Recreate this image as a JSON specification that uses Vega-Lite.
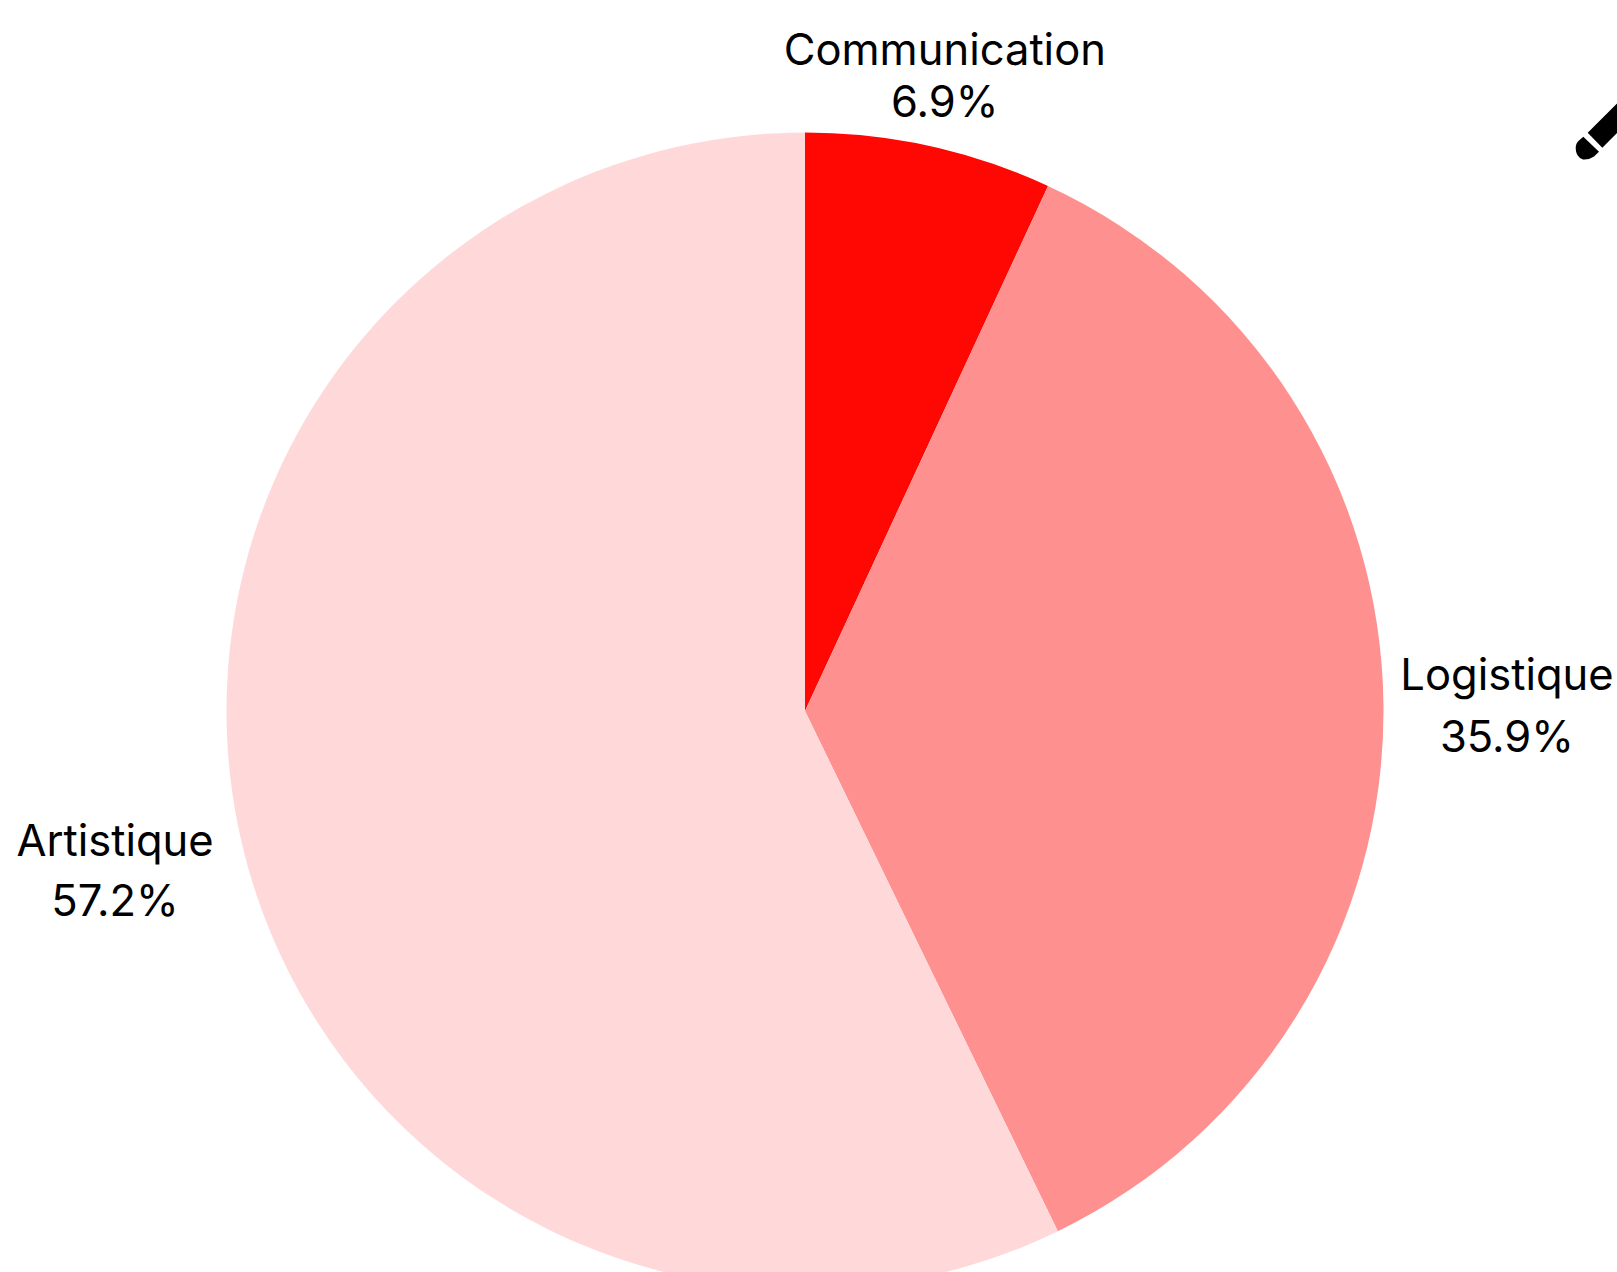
{
"$schema":"https://vega.github.io/schema/vega-lite/v6.json",
"width":1617,"height":1272,"padding":0,
"autosize":{"type":"none"},
"background":"#ffffff",
"config":{"view":{"stroke":null}},
"data":{"values":[
{"name":"Communication","share":6.9,"rank":1},
{"name":"Logistique","share":35.9,"rank":2},
{"name":"Artistique","share":57.2,"rank":3}
]},
"layer":[
{"mark":{"type":"arc","outerRadius":578.5,"innerRadius":0},
 "encoding":{
  "theta":{"field":"share","type":"quantitative","stack":true,"scale":{"domain":[0,100]}},
  "order":{"field":"rank","type":"ordinal"},
  "color":{"field":"name","type":"nominal","legend":null,"scale":{"domain":["Communication","Logistique","Artistique"],"range":["#ff0804","#ff9090","#ffd9d9"]}},
  "x":{"value":805},"y":{"value":711}
 }},
{"transform":[
  {"stack":"share","sort":[{"field":"rank"}],"groupby":[],"as":["a0","a1"]},
  {"calculate":"(datum.a0+datum.a1)/2","as":"mid"},
  {"calculate":"datum.name+'\\n'+format(datum.share,'.1f')+'%'","as":"label"},
  {"filter":"datum.name==='Communication'"}],
 "mark":{"type":"text","radius":650,"dy":-24,"font":"Inter","fontSize":43.5,"lineHeight":52,"lineBreak":"\n","align":"center","baseline":"middle","color":"#000000"},
 "encoding":{"theta":{"field":"mid","type":"quantitative","stack":null,"scale":{"domain":[0,100]}},"text":{"field":"label"},"x":{"value":805},"y":{"value":711}}},
{"transform":[
  {"stack":"share","sort":[{"field":"rank"}],"groupby":[],"as":["a0","a1"]},
  {"calculate":"(datum.a0+datum.a1)/2","as":"mid"},
  {"calculate":"datum.name+'\\n'+format(datum.share,'.1f')+'%'","as":"label"},
  {"filter":"datum.name==='Logistique'"}],
 "mark":{"type":"text","radius":702,"dy":-27,"font":"Inter","fontSize":43.5,"lineHeight":62,"lineBreak":"\n","align":"center","baseline":"middle","color":"#000000"},
 "encoding":{"theta":{"field":"mid","type":"quantitative","stack":null,"scale":{"domain":[0,100]}},"text":{"field":"label"},"x":{"value":805},"y":{"value":711}}},
{"transform":[
  {"stack":"share","sort":[{"field":"rank"}],"groupby":[],"as":["a0","a1"]},
  {"calculate":"(datum.a0+datum.a1)/2","as":"mid"},
  {"calculate":"datum.name+'\\n'+format(datum.share,'.1f')+'%'","as":"label"},
  {"filter":"datum.name==='Artistique'"}],
 "mark":{"type":"text","radius":708,"dy":-27,"font":"Inter","fontSize":43.5,"lineHeight":60,"lineBreak":"\n","align":"center","baseline":"middle","color":"#000000"},
 "encoding":{"theta":{"field":"mid","type":"quantitative","stack":null,"scale":{"domain":[0,100]}},"text":{"field":"label"},"x":{"value":805},"y":{"value":711}}},
{"data":{"values":[{"icon":"pencil"}]},
 "mark":{"type":"point","filled":true,"opacity":1,"color":"#000000","strokeWidth":0,"size":4,
  "shape":"M-12.3,-7.3 L2.3,7.7 L62.3,-52.3 L47.7,-67.3 Z M-16.7,-3.3 L-1,11.7 L-6,16.5 Q-11,20 -17,19.5 Q-24.3,17 -24.3,8.3 Q-24.3,3 -21,0.5 Z"},
 "encoding":{"x":{"value":1600},"y":{"value":140}}}
]
}
